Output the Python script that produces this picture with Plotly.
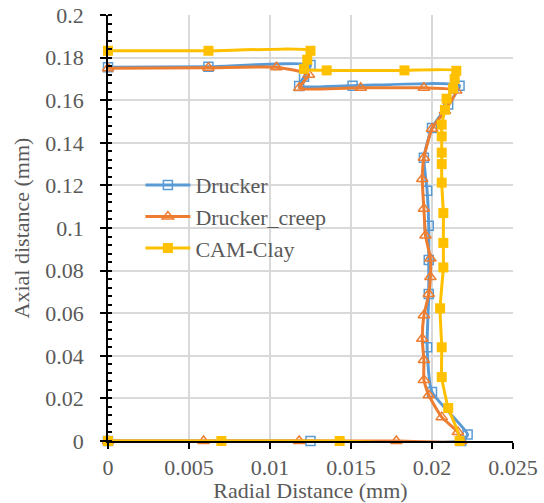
import plotly.graph_objects as go

# Drucker
drucker_x = [0, 0.0125, 0.0218, 0.0222, 0.0200, 0.0197, 0.0198, 0.0198, 0.0198, 0.0197, 0.0195,
             0.0200, 0.0210, 0.0217, 0.0151, 0.0118, 0.0121, 0.0125, 0.0062, 0]
drucker_y = [0, 0, 0, 0.003, 0.023, 0.044, 0.069, 0.085, 0.101, 0.1175, 0.133,
             0.147, 0.158, 0.1668, 0.1668, 0.1667, 0.171, 0.1765, 0.1757, 0.1755]

# Drucker_creep
creep_x = [0, 0.0059, 0.0118, 0.0178, 0.0218, 0.0216, 0.0206, 0.0198, 0.0195, 0.0195, 0.0194,
           0.0195, 0.0198, 0.0199, 0.0199, 0.0196, 0.0195, 0.0194, 0.0195, 0.0200, 0.0208,
           0.0215, 0.0195, 0.0156, 0.0118, 0.0124, 0.0104, 0.0062, 0]
creep_y = [0, 0, 0, 0, 0, 0.0042, 0.0112, 0.0215, 0.0286, 0.038, 0.048,
           0.059, 0.069, 0.077, 0.0857, 0.0965, 0.109, 0.123, 0.133, 0.1466, 0.155,
           0.1645, 0.1658, 0.1658, 0.1658, 0.172, 0.1755, 0.1752, 0.175]

# CAM-Clay
cam_x = [0, 0.0070, 0.0143, 0.0217, 0.0210, 0.0206, 0.0206, 0.0205, 0.0207, 0.0207, 0.0207,
         0.0206, 0.0206, 0.0206, 0.0206, 0.0206, 0.0208, 0.0209, 0.0213, 0.0214, 0.0215,
         0.0183, 0.0135, 0.0121, 0.0123, 0.0125, 0.0062, 0]
cam_y = [0, 0, 0, 0, 0.0155, 0.030, 0.044, 0.0623, 0.0815, 0.093, 0.107,
         0.1213, 0.130, 0.1354, 0.143, 0.1485, 0.1555, 0.1607, 0.1655, 0.170, 0.1738,
         0.174, 0.174, 0.1747, 0.179, 0.1832, 0.1832, 0.1832]

series_names = ["Drucker", "Drucker_creep", "CAM-Clay"]

fig = go.Figure()
fig.add_trace(go.Scatter(
    x=drucker_x, y=drucker_y, name=series_names[0], mode="lines+markers",
    line=dict(color="#5B9BD5", width=3, shape="spline", smoothing=0.5),
    marker=dict(symbol="square-open", size=9, color="#5B9BD5", line=dict(width=1.5)),
    cliponaxis=False, legendgroup="a"))
fig.add_trace(go.Scatter(
    x=creep_x, y=creep_y, name=series_names[1], mode="lines+markers",
    line=dict(color="#ED7D31", width=3, shape="spline", smoothing=0.5),
    marker=dict(symbol="triangle-up-open", size=10, color="#ED7D31", line=dict(width=1.5)),
    cliponaxis=False, legendgroup="b"))
fig.add_trace(go.Scatter(
    x=cam_x, y=cam_y, name=series_names[2], mode="lines+markers",
    line=dict(color="#FFC000", width=3, shape="spline", smoothing=0.5),
    marker=dict(symbol="square", size=10, color="#FFC000"),
    cliponaxis=False, legendgroup="c"))

font_family = "Liberation Serif, Times New Roman, serif"
fig.update_layout(
    width=544, height=503,
    margin=dict(l=108, r=31, t=15, b=62),
    plot_bgcolor="white", paper_bgcolor="white",
    font=dict(family=font_family, color="#595959", size=22),
    legend=dict(x=0.08, y=0.65, xanchor="left", yanchor="top",
                bgcolor="rgba(0,0,0,0)", font=dict(size=22, color="#595959"),
                tracegroupgap=0, traceorder="grouped", itemwidth=45),
    xaxis=dict(range=[0, 0.025], dtick=0.005, tick0=0, automargin=False,
               showgrid=True, gridcolor="#D9D9D9", gridwidth=2,
               showline=True, linecolor="black", linewidth=1.5,
               ticks="outside", ticklen=6, tickcolor="black", tickwidth=1.5,
               ticklabelstandoff=0, ticklabeloverflow="allow",
               zeroline=False,
               title=dict(text="Radial Distance (mm)", font=dict(size=22, color="#595959"), standoff=0),
               tickfont=dict(size=22, color="#595959")),
    yaxis=dict(range=[0, 0.2], dtick=0.02, tick0=0, automargin=False,
               showgrid=True, gridcolor="#D9D9D9", gridwidth=2,
               showline=True, linecolor="black", linewidth=1.5,
               ticks="outside", ticklen=6, tickcolor="black", tickwidth=1.5,
               ticklabelstandoff=12, ticklabeloverflow="allow",
               minor=dict(dtick=0.004, ticks="inside", ticklen=4, tickcolor="black", tickwidth=1.5, showgrid=False),
               zeroline=False,
               title=dict(text="Axial distance (mm)", font=dict(size=22, color="#595959"), standoff=10),
               tickfont=dict(size=22, color="#595959")),
)

fig.write_html("out.html", config={"displayModeBar": False},
               post_script="document.body.style.margin='0px';")
